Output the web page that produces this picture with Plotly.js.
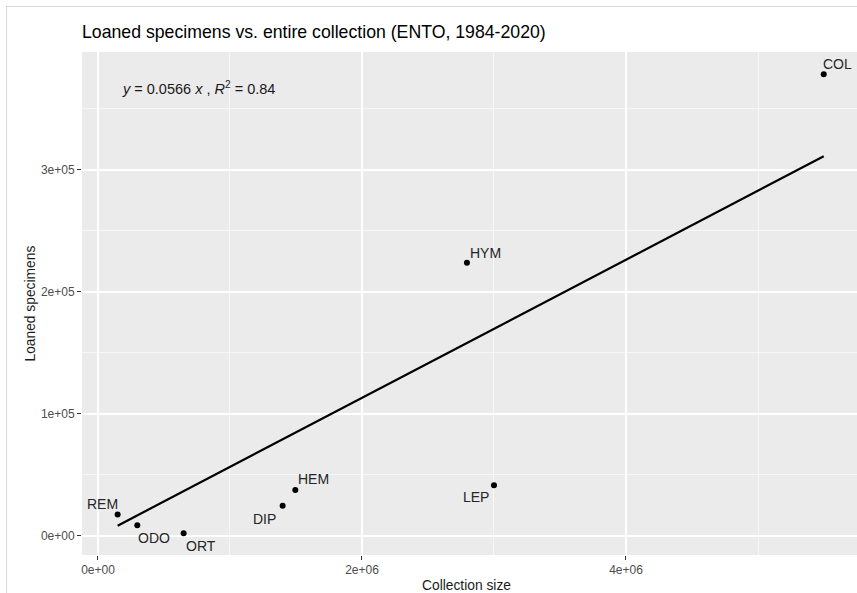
<!DOCTYPE html>
<html>
<head>
<meta charset="utf-8">
<script src="https://cdn.plot.ly/plotly-3.0.1.min.js"></script>
<style>
  html, body { margin: 0; padding: 0; background: #fff; }
  #chart { width: 857px; height: 593px; }
  #frame { position: absolute; left: 6px; top: 6px; width: 860px; height: 600px;
           border-left: 1px solid #d8d8d4; border-top: 1px solid #d8d8d4; pointer-events: none; }
</style>
</head>
<body>
<div id="chart"></div>
<div id="frame"></div>
<script>
// ---- data ----
const orders = ["REM", "ODO", "ORT", "DIP", "HEM", "LEP", "HYM", "COL"];
const collectionSize = [149000, 298000, 649000, 1399000, 1495000, 3000000, 2795000, 5498000];
const loanedSpecimens = [17500, 8800, 2200, 24800, 37700, 41500, 224000, 378400];

// fitted line through origin (y = 0.0566 x), drawn over the data x-span
const fitX = [149000, 5498000];
const fitY = [8430, 311190];
const equationText = "<i>y</i> = 0.0566 <i>x</i> , <i>R</i><sup>2</sup> = 0.84";

const xTickVals = [0, 2000000, 4000000];
const xTickText = ["0e+00", "2e+06", "4e+06"];
const yTickVals = [0, 100000, 200000, 300000];
const yTickText = ["0e+00", "1e+05", "2e+05", "3e+05"];

const titleText = "Loaned specimens vs. entire collection (ENTO, 1984-2020)";
const xTitle = "Collection size";
const yTitle = "Loaned specimens";

// ---- label offsets (styling, pixels) ----
const labelOffset = {
  REM: [-15, 11], ODO: [17, -13], ORT: [17, -13], DIP: [-18, -13],
  HEM: [18, 11], LEP: [-18, -12], HYM: [19, 10], COL: [14, 10]
};

const FONT = "Liberation Sans, Arial, sans-serif";

const traces = [
  {
    x: fitX, y: fitY, type: "scatter", mode: "lines",
    line: { color: "#000000", width: 2.2 }, hoverinfo: "skip", showlegend: false
  },
  {
    x: collectionSize, y: loanedSpecimens, type: "scatter", mode: "markers",
    marker: { color: "#000000", size: 6 }, text: orders, showlegend: false
  }
];

const annotations = orders.map((name, i) => ({
  x: collectionSize[i], y: loanedSpecimens[i], xref: "x", yref: "y",
  text: name, showarrow: false,
  xshift: labelOffset[name][0], yshift: labelOffset[name][1],
  font: { family: FONT, size: 14, color: "#262626" }
}));

annotations.push({
  xref: "paper", yref: "paper", x: (120 - 82) / 775, y: (555 - 88) / 503,
  xanchor: "left", yanchor: "middle", showarrow: false,
  text: equationText, font: { family: FONT, size: 14.5, color: "#1a1a1a" }
});
annotations.push({
  xref: "paper", yref: "paper", x: (466 - 82) / 775, y: -(585 - 555) / 503,
  xanchor: "center", yanchor: "middle", showarrow: false,
  text: xTitle, font: { family: FONT, size: 13.8, color: "#1a1a1a" }
});
annotations.push({
  xref: "paper", yref: "paper", x: (30 - 82) / 775, y: 0.5,
  xanchor: "center", yanchor: "middle", showarrow: false, textangle: -90,
  text: yTitle, font: { family: FONT, size: 13.8, color: "#1a1a1a" }
});

const layout = {
  width: 857, height: 593,
  margin: { l: 82, r: 0, t: 52, b: 38 },
  paper_bgcolor: "#ffffff", plot_bgcolor: "#ebebeb",
  font: { family: FONT },
  title: {
    text: titleText, xref: "container", yref: "container",
    x: 82 / 857, xanchor: "left", y: 1 - 32 / 593, yanchor: "middle",
    font: { family: FONT, size: 17.7, color: "#000000" }
  },
  xaxis: {
    range: [-121000, 5750000],
    tickvals: xTickVals, ticktext: xTickText,
    showgrid: true, gridcolor: "#ffffff", gridwidth: 1.1,
    minor: { dtick: 1000000, tick0: 0, showgrid: true, gridcolor: "#ffffff", gridwidth: 0.6 },
    zeroline: false, showline: false,
    ticks: "outside", ticklen: 4, tickwidth: 1, tickcolor: "#333333",
    tickfont: { family: FONT, size: 12, color: "#4d4d4d" }
  },
  yaxis: {
    range: [-15600, 396700],
    tickvals: yTickVals, ticktext: yTickText,
    showgrid: true, gridcolor: "#ffffff", gridwidth: 1.1,
    minor: { dtick: 50000, tick0: 0, showgrid: true, gridcolor: "#ffffff", gridwidth: 0.6 },
    zeroline: false, showline: false,
    ticks: "outside", ticklen: 4, tickwidth: 1, tickcolor: "#333333",
    tickfont: { family: FONT, size: 12, color: "#4d4d4d" }
  },
  annotations: annotations,
  showlegend: false
};

Plotly.newPlot("chart", traces, layout, { displayModeBar: false, staticPlot: true });
</script>
</body>
</html>
